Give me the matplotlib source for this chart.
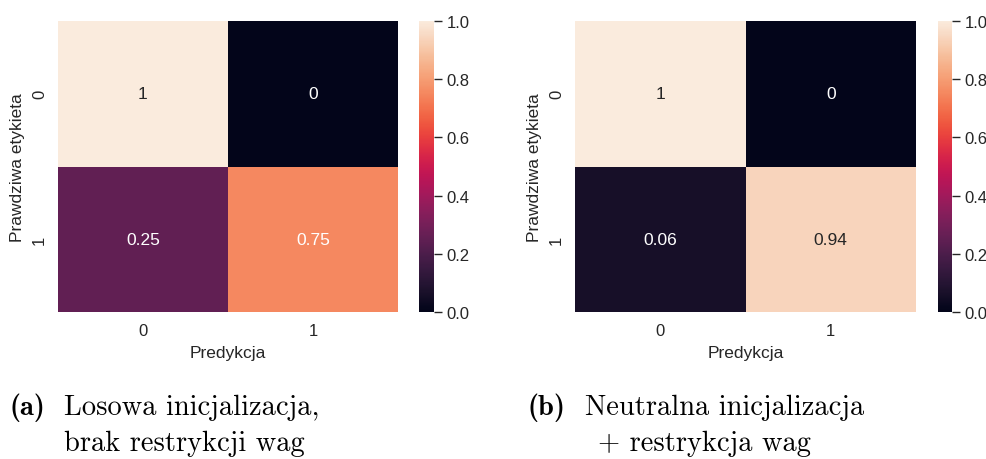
import matplotlib
matplotlib.use("Agg")
import matplotlib.pyplot as plt
import seaborn as sns

# confusion matrices (row-normalised), rows = true label, cols = prediction
class_labels = ["0", "1"]
cm_random_init = [[1.0, 0.0],
                  [0.25, 0.75]]
cm_neutral_init = [[1.0, 0.0],
                   [0.06, 0.94]]

caption_tags = ["(a)", "(b)"]
caption_first = ["Losowa inicjalizacja,", "Neutralna inicjalizacja"]
caption_second = ["brak restrykcji wag", "+ restrykcja wag"]

sns.set_theme(style="white")
plt.rcParams["font.family"] = ["Liberation Sans", "DejaVu Sans"]
plt.rcParams["text.color"] = "0.15"
plt.rcParams["axes.labelcolor"] = "0.15"
plt.rcParams["xtick.color"] = "0.15"
plt.rcParams["ytick.color"] = "0.15"

W, H = 987, 460
fig = plt.figure(figsize=(W / 100, H / 100), dpi=100)


def px_box(x0, y0, x1, y1):
    return [x0 / W, 1 - y1 / H, (x1 - x0) / W, (y1 - y0) / H]


panels = [
    (cm_random_init, px_box(58, 22, 398, 313), px_box(419, 22, 434, 313)),
    (cm_neutral_init, px_box(575, 22, 916, 313), px_box(938, 22, 952, 313)),
]

for data, hm_box, cb_box in panels:
    ax = fig.add_axes(hm_box)
    cax = fig.add_axes(cb_box)
    sns.heatmap(data, ax=ax, cbar_ax=cax, annot=True, vmin=0, vmax=1,
                xticklabels=class_labels, yticklabels=class_labels,
                annot_kws={"fontsize": 12.5})
    ax.set_xlabel("Predykcja", fontsize=12.5, labelpad=5)
    ax.set_ylabel("Prawdziwa etykieta", fontsize=12.5, labelpad=5)
    ax.tick_params(axis="both", labelsize=12, length=0, pad=8)
    cax.tick_params(labelsize=12, length=6, width=1, pad=3, color="0.15")
    cax.set_yticks([0.0, 0.2, 0.4, 0.6, 0.8, 1.0])

# subfigure captions
tag_x = [10, 527]
first_x = [64, 585]
second_x = [64, 598]
for i in range(2):
    fig.text(tag_x[i] / W, 1 - 415 / H, caption_tags[i], family="cmb10",
             fontsize=20.5, color="black", va="baseline")
    fig.text(first_x[i] / W, 1 - 415 / H, caption_first[i], family="cmr10",
             fontsize=20.5, color="black", va="baseline")
    fig.text(second_x[i] / W, 1 - 451 / H, caption_second[i], family="cmr10",
             fontsize=20.5, color="black", va="baseline")

fig.savefig("out.png", dpi=100)
